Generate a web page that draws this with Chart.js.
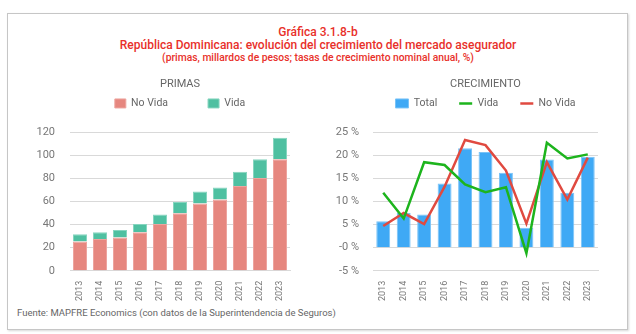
<!DOCTYPE html>
<html>
<head>
<meta charset="utf-8">
<script src="https://cdn.jsdelivr.net/npm/chart.js@4"></script>
<style>
  body { margin: 0; background: #fff; width: 636px; height: 334px; position: relative; overflow: hidden; font-family: "Roboto", sans-serif; }
  #frame { position: absolute; left: 7px; top: 13px; width: 619px; height: 315px; border: 1px solid #c6c6c6; box-shadow: 1px 1px 2px #d8d8d8; }
  .t { position: absolute; left: 0; width: 636px; text-align: center; color: #e8302a; white-space: nowrap; font-weight: 500; }
  #t1 { top: 25px; font-size: 12px; }
  #t2 { top: 38px; font-size: 12px; }
  #t3 { top: 51px; font-size: 10.3px; }
  #src { position: absolute; left: 17px; top: 307px; font-size: 9.5px; color: #666; }
  #left { position: absolute; left: 15px; top: 72px; }
  #right { position: absolute; left: 318px; top: 72px; }
</style>
</head>
<body>
<div id="frame"></div>
<div class="t" id="t1">Gráfica 3.1.8-b</div>
<div class="t" id="t2">República Dominicana: evolución del crecimiento del mercado asegurador</div>
<div class="t" id="t3">(primas, millardos de pesos; tasas de crecimiento nominal anual, %)</div>
<canvas id="left" width="330" height="231" style="width:330px;height:231px"></canvas>
<canvas id="right" width="335" height="231" style="width:335px;height:231px"></canvas>
<div id="src">Fuente: MAPFRE Economics (con datos de la Superintendencia de Seguros)</div>
<script>
var years = ['2013', '2014', '2015', '2016', '2017', '2018', '2019', '2020', '2021', '2022', '2023'];

// primas, millardos de pesos
var primasNoVida = [25.3, 27.6, 28.8, 33.4, 40.6, 49.9, 58.3, 61.8, 73.4, 80.3, 96.5];
var primasVida = [6.4, 5.8, 6.4, 7.2, 8.2, 9.6, 10.4, 10.4, 12.4, 16.2, 18.8];

// crecimiento nominal anual, %
var crecTotal = [5.7, 7.5, 7.2, 13.9, 21.5, 20.7, 16.2, 4.3, 19.1, 11.9, 19.7];
var crecVida = [11.9, 6.3, 18.5, 17.9, 13.7, 12.0, 13.1, -1.2, 22.7, 19.3, 20.2];
var crecNoVida = [4.7, 7.5, 5.1, 13.2, 23.3, 22.2, 16.7, 5.2, 18.5, 10.4, 19.5];

var primasTicks = [0, 20, 40, 60, 80, 100, 120];
var crecTicks = [-5, 0, 5, 10, 15, 20, 25];

Chart.defaults.font.family = 'Roboto, sans-serif';
Chart.defaults.color = '#777';
Chart.defaults.animation = false;

var gridColor = '#d9d9d9';

// legend: keep the wide gap between items but not the tall box
var legendFix = {
    id: 'legendFix',
    afterInit: function (chart) {
        var lg = chart.legend;
        var fit = lg.fit;
        lg.fit = function () {
            fit.call(this);
            this.height = 35;
        };
        var draw = lg.draw;
        lg.draw = function () {
            var t = this.top;
            this.top = t - this.options.labels.padding + 1;
            draw.call(this);
            this.top = t;
        };
    }
};

function xAxis() {
    return {
        grid: { display: false },
        border: { color: gridColor },
        ticks: { font: { size: 9 }, color: '#777', minRotation: 90, maxRotation: 90, autoSkip: false, padding: 2 }
    };
}

// empty axis on the right so title and legend sit centred over the plot
function spacer() {
    return {
        position: 'right',
        grid: { display: false },
        border: { display: false },
        ticks: { display: false },
        afterFit: function (axis) { axis.width = 55; }
    };
}

var ctxL = document.getElementById('left').getContext('2d');
var chartL = new Chart(ctxL, {
    type: 'bar',
    data: {
        labels: years,
        datasets: [{
            label: 'No Vida',
            data: primasNoVida,
            backgroundColor: '#e6877f',
            borderColor: '#eda49e',
            borderWidth: 1,
            barPercentage: 0.7,
            categoryPercentage: 1
        }, {
            label: 'Vida',
            data: primasVida,
            backgroundColor: '#4fc0a1',
            borderColor: '#86d5bf',
            borderWidth: 1,
            barPercentage: 0.7,
            categoryPercentage: 1
        }]
    },
    plugins: [legendFix],
    options: {
        responsive: false,
        plugins: {
            title: { display: true, text: 'PRIMAS', color: '#666', font: { size: 11, weight: 'normal' }, padding: { top: 6, bottom: 6 } },
            legend: {
                labels: { boxWidth: 11, boxHeight: 9, padding: 40, color: '#666', font: { size: 10.5 } }
            },
            tooltip: { enabled: false }
        },
        scales: {
            x: Object.assign(xAxis(), { stacked: true }),
            y: {
                stacked: true,
                min: 0,
                max: 120,
                afterBuildTicks: function (axis) { axis.ticks = primasTicks.map(function (v) { return { value: v }; }); },
                afterFit: function (axis) { axis.width = 55; },
                grid: { color: gridColor, drawTicks: false },
                border: { display: false },
                ticks: { font: { size: 11 }, color: '#777', padding: 15 }
            },
            pad: spacer()
        }
    }
});

var ctxR = document.getElementById('right').getContext('2d');
var chartR = new Chart(ctxR, {
    type: 'bar',
    data: {
        labels: years,
        datasets: [{
            type: 'bar',
            label: 'Total',
            data: crecTotal,
            backgroundColor: '#3fa9f5',
            borderColor: '#79c3f8',
            borderWidth: 1,
            barPercentage: 0.68,
            categoryPercentage: 1,
            pointStyle: 'rect',
            order: 3
        }, {
            type: 'line',
            label: 'Vida',
            data: crecVida,
            borderColor: '#1db41d',
            backgroundColor: '#1db41d',
            borderWidth: 2.5,
            pointRadius: 0,
            pointStyle: 'line',
            tension: 0,
            order: 1
        }, {
            type: 'line',
            label: 'No Vida',
            data: crecNoVida,
            borderColor: '#e04a40',
            backgroundColor: '#e04a40',
            borderWidth: 2.5,
            pointRadius: 0,
            pointStyle: 'line',
            tension: 0,
            order: 2
        }]
    },
    plugins: [legendFix],
    options: {
        responsive: false,
        plugins: {
            title: { display: true, text: 'CRECIMIENTO', color: '#666', font: { size: 11, weight: 'normal' }, padding: { top: 6, bottom: 6 } },
            legend: {
                labels: {
                    usePointStyle: true, pointStyleWidth: 13, boxHeight: 9, padding: 22, color: '#666', font: { size: 10.5 },
                    sort: function (a, b) { return a.datasetIndex - b.datasetIndex; }
                }
            },
            tooltip: { enabled: false }
        },
        scales: {
            x: xAxis(),
            y: {
                min: -5,
                max: 25,
                afterBuildTicks: function (axis) { axis.ticks = crecTicks.map(function (v) { return { value: v }; }); },
                afterFit: function (axis) { axis.width = 55; },
                grid: { color: gridColor, drawTicks: false },
                border: { display: false },
                ticks: {
                    font: { size: 11 }, color: '#777', padding: 14,
                    callback: function (v) { return (v === 0 ? '-0' : v) + ' %'; }
                }
            },
            pad: spacer()
        }
    }
});
</script>
</body>
</html>
